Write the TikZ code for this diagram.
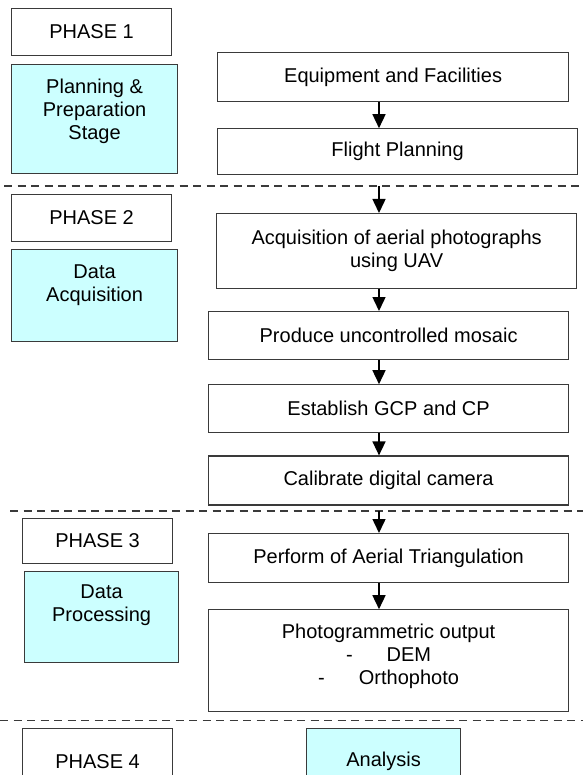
\documentclass[tikz,border=0pt]{standalone}
\usepackage{fontspec}
\setmainfont{Liberation Sans}
\usetikzlibrary{arrows.meta}
\definecolor{stagecyan}{HTML}{CCFFFF}
\definecolor{edgegray}{HTML}{3A3A3A}

\begin{document}
\begin{tikzpicture}[
    x=1pt, y=-1pt,
    font=\fontsize{20}{23}\selectfont,
    phasebox/.style={draw=edgegray, line width=1.2pt, minimum width=160pt, minimum height=47pt, inner sep=0pt, anchor=north west},
    stagebox/.style={draw=edgegray, line width=1.2pt, fill=stagecyan, minimum width=166pt, inner sep=0pt, anchor=north west},
    stagetext/.style={align=center, inner sep=0pt, anchor=north},
    stepbox/.style={draw=edgegray, line width=1.2pt, minimum width=360pt, minimum height=48pt, inner sep=0pt, align=center, anchor=north west},
    arrowstyle/.style={-{Triangle[length=14pt, width=13pt]}, line width=1.5pt},
    cutline/.style={draw=edgegray, line width=1.5pt, dash pattern=on 8pt off 5.5pt},
]
    \useasboundingbox (0,0) rectangle (583,775);
    \coordinate (arrx) at (379,0);

    % Phase 1: planning
    \node[phasebox] (ph1) at (11,8) {PHASE 1};
    \node[stagebox, minimum height=109pt] (plan) at (11,64) {};
    \node[stagetext] (plantxt) at ([yshift=-14.5pt]plan.north) {Planning \&\\Preparation\\Stage};

    \node[stepbox, minimum width=351pt, minimum height=49pt] (equip) at (217,52) {Equipment and Facilities};
    \node[stepbox, minimum height=46pt] (flight) at ([yshift=-26pt]equip.south west) {Flight Planning};
    \draw[arrowstyle] (equip.south -| arrx) -- (flight.north -| arrx);

    % Phase 2: data acquisition
    \coordinate (cut1w) at (4,186);
    \coordinate (cut1e) at (583,186);
    \draw[cutline] (cut1w) -- (cut1e);

    \node[phasebox] (ph2) at (11,194) {PHASE 2};
    \node[stagebox, minimum height=92pt] (acq) at (11,249) {};
    \node[stagetext] (acqtxt) at ([yshift=-16pt]acq.north) {Data\\Acquisition};

    \node[stepbox, minimum height=75pt] (aerial) at (216,213) {Acquisition of aerial photographs\\using UAV};
    \node[stepbox] (mosaic) at (208,311) {Produce uncontrolled mosaic};
    \node[stepbox] (gcp) at ([yshift=-24pt]mosaic.south west) {Establish GCP and CP};
    \node[stepbox, minimum height=49pt] (camera) at ([yshift=-22pt]gcp.south west) {Calibrate digital camera};

    \draw[arrowstyle] (cut1w -| arrx) -- (aerial.north -| arrx);
    \draw[arrowstyle] (aerial.south -| arrx) -- (mosaic.north -| arrx);
    \draw[arrowstyle] (mosaic.south -| arrx) -- (gcp.north -| arrx);
    \draw[arrowstyle] (gcp.south -| arrx) -- (camera.north -| arrx);

    % Phase 3: data processing
    \coordinate (cut2w) at (10,511);
    \coordinate (cut2e) at (583,511);
    \draw[cutline] (cut2w) -- (cut2e);

    \node[phasebox, minimum width=150pt, minimum height=45pt] (ph3) at (22,518) {PHASE 3};
    \node[stagebox, minimum width=154pt, minimum height=91pt] (proc) at (24,571) {};
    \node[stagetext] (proctxt) at ([yshift=-13.5pt]proc.north) {Data\\Processing};

    \node[stepbox, minimum height=49pt] (triang) at (208,533) {Perform of Aerial Triangulation};
    \node[stepbox, minimum height=102pt] (output) at ([yshift=-26pt]triang.south west) {};
    \node[stagetext] (outtxt) at ([yshift=-14.5pt]output.north) {Photogrammetric output\\-\hspace{34pt}DEM\\-\hspace{34pt}Orthophoto};

    \draw[arrowstyle] (cut2w -| arrx) -- (triang.north -| arrx);
    \draw[arrowstyle] (triang.south -| arrx) -- (output.north -| arrx);

    % Phase 4: analysis
    \coordinate (cut3w) at (0,720.5);
    \coordinate (cut3e) at (583,720.5);
    \draw[cutline] (cut3w) -- (cut3e);

    \node[phasebox, minimum width=150pt, minimum height=66pt] (ph4) at (22,728) {PHASE 4};
    \node[stagebox, minimum width=154pt, minimum height=66pt] (analysis) at (306,728) {Analysis};
\end{tikzpicture}
\end{document}
